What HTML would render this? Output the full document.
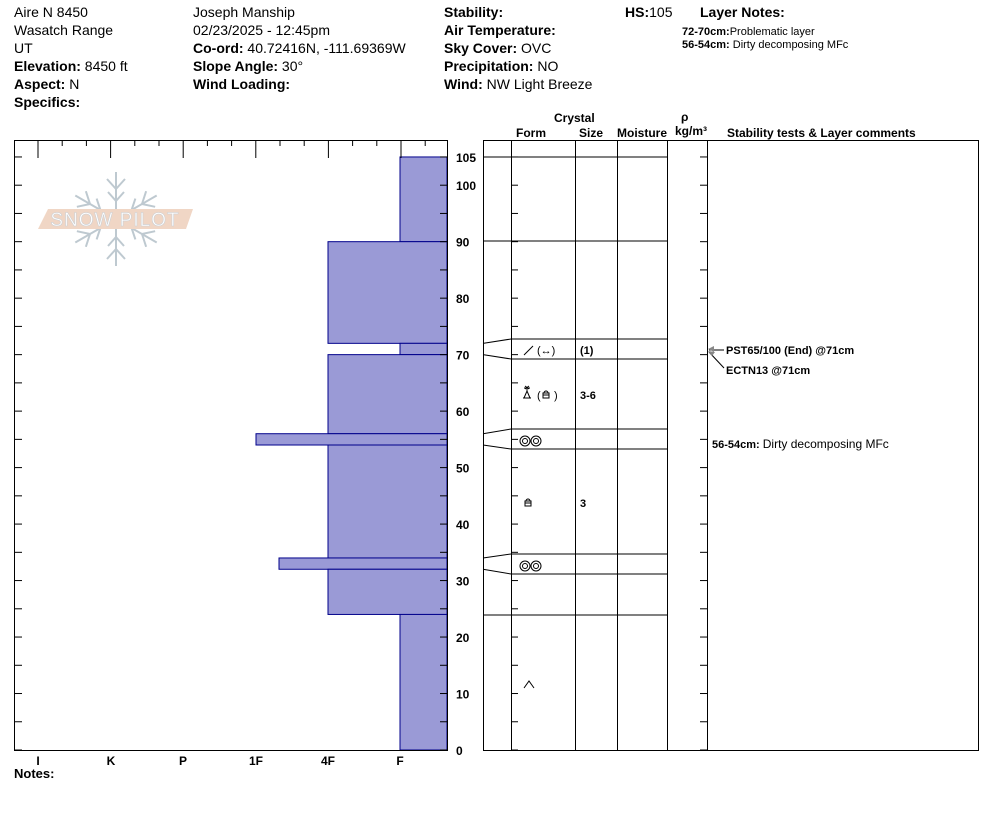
<!DOCTYPE html>
<html><head><meta charset="utf-8"><style>
body{margin:0;background:#fff;width:994px;height:840px;overflow:hidden;font-family:"Liberation Sans",Arial,sans-serif}
svg{position:absolute;left:0;top:0}
</style></head><body>
<svg id="s" width="994" height="840" xmlns="http://www.w3.org/2000/svg" font-family="Liberation Sans, Arial, sans-serif" font-size="14">
<g fill="#000">
<text x="14" y="17">Aire N 8450</text>
<text x="14" y="35">Wasatch Range</text>
<text x="14" y="53">UT</text>
<text x="14" y="71"><tspan font-weight="bold">Elevation:</tspan> 8450 ft</text>
<text x="14" y="89"><tspan font-weight="bold">Aspect:</tspan> N</text>
<text x="14" y="107" font-weight="bold">Specifics:</text>
<text x="193" y="17">Joseph Manship</text>
<text x="193" y="35">02/23/2025 - 12:45pm</text>
<text x="193" y="53"><tspan font-weight="bold">Co-ord:</tspan> 40.72416N, -111.69369W</text>
<text x="193" y="71"><tspan font-weight="bold">Slope Angle:</tspan> 30°</text>
<text x="193" y="89" font-weight="bold">Wind Loading:</text>
<text x="444" y="17" font-weight="bold">Stability:</text>
<text x="444" y="35" font-weight="bold">Air Temperature:</text>
<text x="444" y="53"><tspan font-weight="bold">Sky Cover:</tspan> OVC</text>
<text x="444" y="71"><tspan font-weight="bold">Precipitation:</tspan> NO</text>
<text x="444" y="89"><tspan font-weight="bold">Wind:</tspan>  NW Light Breeze</text>
<text x="625" y="17"><tspan font-weight="bold">HS:</tspan>105</text>
<text x="700" y="17" font-weight="bold">Layer Notes:</text>
<text x="682" y="35" font-size="11"><tspan font-weight="bold">72-70cm:</tspan>Problematic layer</text>
<text x="682" y="48" font-size="11"><tspan font-weight="bold">56-54cm:</tspan> Dirty decomposing MFc</text>
<text x="14" y="778" font-weight="bold" font-size="13">Notes:</text>
<g font-size="12" font-weight="bold">
<text x="554" y="122">Crystal</text>
<text x="516" y="137">Form</text>
<text x="579" y="137">Size</text>
<text x="617" y="137">Moisture</text>
<text x="681" y="121">ρ</text>
<text x="675" y="135">kg/m³</text>
<text x="727" y="137">Stability tests &amp; Layer comments</text>
</g>
<g font-size="12" font-weight="bold" text-anchor="middle">
<text x="38" y="765">I</text><text x="111" y="765">K</text><text x="183" y="765">P</text><text x="256" y="765">1F</text><text x="328" y="765">4F</text><text x="400" y="765">F</text>
</g>
</g>
<!-- logo -->
<g opacity="0.9">
<g stroke="#b8c4cc" stroke-width="2" fill="none" transform="translate(116,219)">
<g id="arm"><line x1="0" y1="0" x2="0" y2="-47"/><line x1="0" y1="-30" x2="-9" y2="-40"/><line x1="0" y1="-30" x2="9" y2="-40"/><line x1="0" y1="-18" x2="-8" y2="-27"/><line x1="0" y1="-18" x2="8" y2="-27"/></g>
<use href="#arm" transform="rotate(60)"/><use href="#arm" transform="rotate(120)"/><use href="#arm" transform="rotate(180)"/><use href="#arm" transform="rotate(240)"/><use href="#arm" transform="rotate(300)"/>
</g>
<polygon points="48,209 193,209 186,229 38,229" fill="#efd2bf"/>
<text x="115" y="226" text-anchor="middle" font-size="19" fill="#fff" stroke="#c8ccd0" stroke-width="0.6" letter-spacing="1">SNOW PILOT</text>
</g>
<g id="g" stroke="#000" fill="none" stroke-width="1"></g>
<g font-size="11" font-weight="bold" fill="#000">
<text x="580" y="354">(1)</text>
<text x="580" y="399">3-6</text>
<text x="580" y="507">3</text>
<text x="726" y="354">PST65/100 (End) @71cm</text>
<text x="726" y="374">ECTN13 @71cm</text>
<text x="712" y="448">56-54cm: <tspan font-weight="normal" font-size="12">Dirty decomposing MFc</tspan></text>
</g>
<g font-size="11" fill="#000">
<text x="537" y="354">(↔)</text>
<text x="537" y="399">(</text><text x="554" y="399">)</text>
</g>
</svg>
<script>
var g=document.getElementById('g'),NS='http://www.w3.org/2000/svg',s=document.getElementById('s');
function el(t,a,p){var e=document.createElementNS(NS,t);for(var k in a)e.setAttribute(k,a[k]);(p||g).appendChild(e);return e}
function L(x1,y1,x2,y2,st){var a={x1:x1,y1:y1,x2:x2,y2:y2};if(st)a.stroke=st;el('line',a)}
function y(d){return 750-5.648*d}
// bars
var bars=[[105,90,400],[90,72,328],[72,70,400],[70,56,328],[56,54,256],[54,34,328],[34,32,279],[32,24,328],[24,0,400]];
bars.forEach(function(b){el('rect',{x:b[2],y:y(b[0]),width:447-b[2],height:y(b[1])-y(b[0]),fill:'#9a9ad6',stroke:'#00008b'})});
el('rect',{x:14.5,y:140.5,width:433,height:610});
// top ticks
for(var i=0;i<=17;i++){var x=38+i*24.2;if(x>447)break;L(x,140,x,i%3==0?158:146)}
// side ticks
for(var d=0;d<=105;d+=5){var yy=y(d);L(14,yy,22,yy);L(440,yy,447,yy);L(511,yy,518,yy);L(700,yy,707,yy)}
// labels
[0,10,20,30,40,50,60,70,80,90,100,105].forEach(function(d){var t=el('text',{x:456,y:y(d)+5,'font-size':12,'font-weight':'bold',fill:'#000',stroke:'none'},s);t.textContent=d});
// right grid
el('rect',{x:483.5,y:140.5,width:495,height:610});
[511,575,617,667,707].forEach(function(x){L(x+.5,140,x+.5,750)});
L(483,157,667,157);L(483,241,667,241);L(483,615,667,615);
[[72,339],[70,359],[56,429],[54,449],[34,554],[32,574]].forEach(function(p){var a=y(p[0]);L(483,a,511,p[1]);L(511,p[1],667,p[1])});
// symbols
el('path',{d:'M524 355 L533 346'});
el('path',{d:'M524 688 L529 681 L534 688'});
[[441],[566]].forEach(function(p){var c=p[0];el('circle',{cx:525,cy:c,r:5});el('circle',{cx:525,cy:c,r:2.5});el('circle',{cx:536,cy:c,r:5});el('circle',{cx:536,cy:c,r:2.5})});
function lock(x,yy){el('rect',{x:x,y:yy,width:6,height:5});el('path',{d:'M'+x+' '+(yy+2)+'h6 M'+(x+1)+' '+yy+'a2 2 0 0 1 4 0'})}
lock(525,501);lock(543,393);
el('path',{d:'M523 398 h8 M524 398 l3 -7 l3 7 M527 391 v-4 M524 388 l6 0 M525 386 l4 3 M529 386 l-4 3'});
// arrows
L(709,350,724,350,'#000');L(709,352,724,368,'#000');
el('path',{d:'M708 349 l6 -3 v6z',fill:'#888',stroke:'none'});el('path',{d:'M708 351 l7 1 l-3 4z',fill:'#888',stroke:'none'});
</script>
</body></html>
